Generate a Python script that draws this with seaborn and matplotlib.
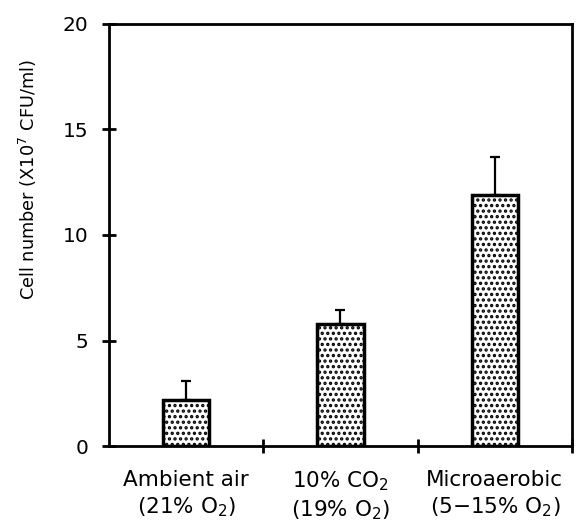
import matplotlib
matplotlib.use('Agg')
import numpy as np
import pandas as pd
import matplotlib.pyplot as plt
import seaborn as sns

# values
conditions = ['Ambient air\n(21% O$_2$)', '10% CO$_2$\n(19% O$_2$)', 'Microaerobic\n(5\u221215% O$_2$)']
cell_number = [2.2, 5.8, 11.9]
error_up = [0.9, 0.65, 1.8]
y_ticks = [0, 5, 10, 15, 20]

sns.set_theme(style='white')
plt.rcParams['font.family'] = ['DejaVu Sans']
plt.rcParams['mathtext.fontset'] = 'dejavusans'
plt.rcParams['hatch.linewidth'] = 1.6
plt.rcParams['hatch.color'] = 'black'
for k in ['text.color', 'axes.labelcolor', 'xtick.color', 'ytick.color']:
    plt.rcParams[k] = 'black'

df = pd.DataFrame({'condition': conditions, 'cells': cell_number})

fig = plt.figure(figsize=(5.83, 5.28), dpi=100)
ax = fig.add_axes([0.187, 0.155, 0.794, 0.80])

sns.barplot(data=df, x='condition', y='cells', color='white', edgecolor='black',
            linewidth=2.5, width=0.3, hatch='...', ax=ax)

# upper error bars only
x = np.arange(len(conditions))
ax.errorbar(x, cell_number, yerr=[np.zeros(len(error_up)), error_up], fmt='none',
            ecolor='black', elinewidth=1.6, capsize=3.5, capthick=1.6, zorder=1)

ax.set_xlim(-0.5, 2.5)
ax.set_ylim(0, 20)
ax.set_yticks(y_ticks)
ax.set_yticklabels([str(v) for v in y_ticks], fontsize=14.5)
ax.set_xticks(x)
ax.set_xticklabels(conditions, fontsize=15.5, linespacing=1.3)
ax.set_xticks([0.5, 1.5, 2.5], minor=True)

ax.tick_params(axis='x', which='major', length=0, pad=17)
ax.tick_params(axis='x', which='minor', direction='inout', length=10, width=2, bottom=True)
ax.tick_params(axis='y', direction='inout', length=10, width=2, pad=10, left=True)

for s in ax.spines.values():
    s.set_linewidth(2)
    s.set_color('black')

ax.set_xlabel('')
ax.set_ylabel('Cell number (X10$^7$ CFU/ml)', fontsize=12.8)
ax.yaxis.set_label_coords(-0.152, 0.63)

fig.savefig('out.png', dpi=100)
